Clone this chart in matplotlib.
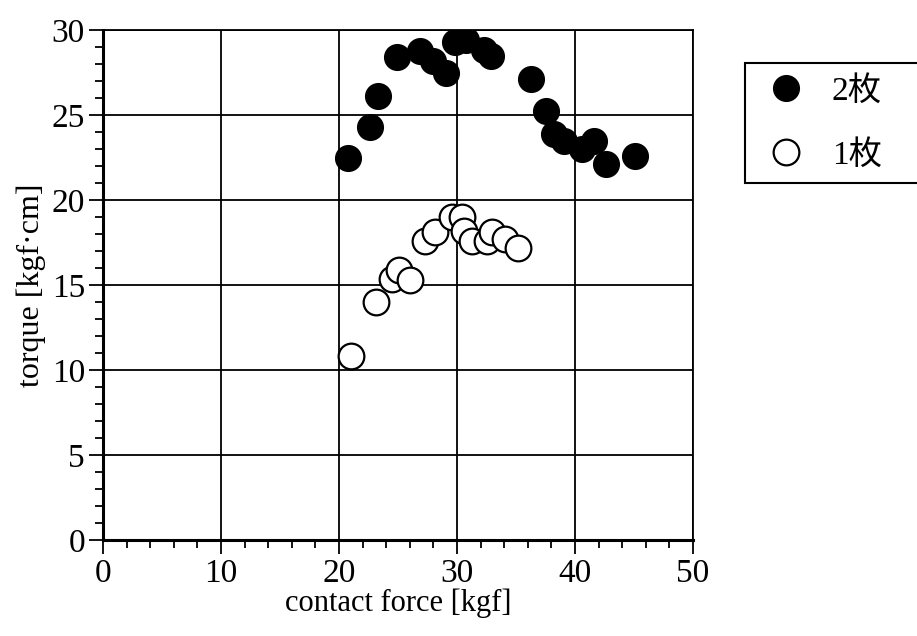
import matplotlib
matplotlib.use("Agg")
import matplotlib.pyplot as plt
from matplotlib.ticker import MultipleLocator

# data: two plates (filled) and one plate (open)
x_two = [20.8, 22.6, 23.3, 24.9, 26.9, 28.0, 29.1, 29.8, 30.8, 32.3, 32.9,
         36.3, 37.5, 38.2, 39.1, 40.6, 41.6, 42.6, 45.1]
y_two = [22.5, 24.3, 26.1, 28.4, 28.75, 28.2, 27.5, 29.3, 29.4, 28.85, 28.5,
         27.1, 25.25, 23.9, 23.5, 23.0, 23.5, 22.1, 22.6]
x_one = [21.0, 23.1, 24.5, 25.1, 26.0, 27.3, 28.1, 29.6, 30.4, 30.6, 31.3,
         32.5, 33.0, 34.1, 35.2]
y_one = [10.85, 14.0, 15.35, 15.9, 15.3, 17.6, 18.1, 19.0, 19.0, 18.2, 17.6,
         17.6, 18.1, 17.7, 17.2]
labels = ["2枚", "1枚"]
x_ticks = [0, 10, 20, 30, 40, 50]
y_ticks = [0, 5, 10, 15, 20, 25, 30]

serif = ["Liberation Serif", "Noto Sans CJK JP", "DejaVu Sans"]
plt.rcParams["font.family"] = serif

fig = plt.figure(figsize=(9.17, 6.36), dpi=100)
ax = fig.add_axes([103/917, 1-540/636, (693-103)/917, (540-30)/636])

ax.plot(x_two, y_two, "o", ms=18.5, mfc="black", mec="black", ls="none",
        label=labels[0], zorder=3)
ax.plot(x_one, y_one, "o", ms=18.5, mfc="white", mec="black", mew=1.6,
        ls="none", label=labels[1], zorder=3)

ax.set_xlim(0, 50)
ax.set_ylim(0, 30)
ax.set_xticks(x_ticks)
ax.set_yticks(y_ticks)
ax.xaxis.set_minor_locator(MultipleLocator(2))
ax.yaxis.set_minor_locator(MultipleLocator(1))
ax.grid(True, which="major", color="black", lw=1.3)
ax.set_axisbelow(True)
for s in ["left", "bottom"]:
    ax.spines[s].set_linewidth(2.2)
for s in ["top", "right"]:
    ax.spines[s].set_linewidth(1.3)
ax.tick_params(which="major", direction="out", length=10, width=1.3,
               labelsize=24, pad=3)
ax.tick_params(which="minor", direction="out", length=6, width=1.3)
ax.set_xlabel("contact force [kgf]", fontsize=22, labelpad=0)
ax.set_ylabel("torque [kgf·cm]", fontsize=23, labelpad=4)

leg = fig.legend(loc="upper left",
                 bbox_to_anchor=(745/917, 1-187/636, 0.22, 124/636),
                 mode="expand", fontsize=24, frameon=True, fancybox=False,
                 edgecolor="black", framealpha=1, handletextpad=0.55,
                 labelspacing=1.0, borderpad=0.38, handlelength=1.67,
                 borderaxespad=0, markerscale=1.0)
leg.get_frame().set_linewidth(1.5)

fig.savefig("out.png", dpi=100)
